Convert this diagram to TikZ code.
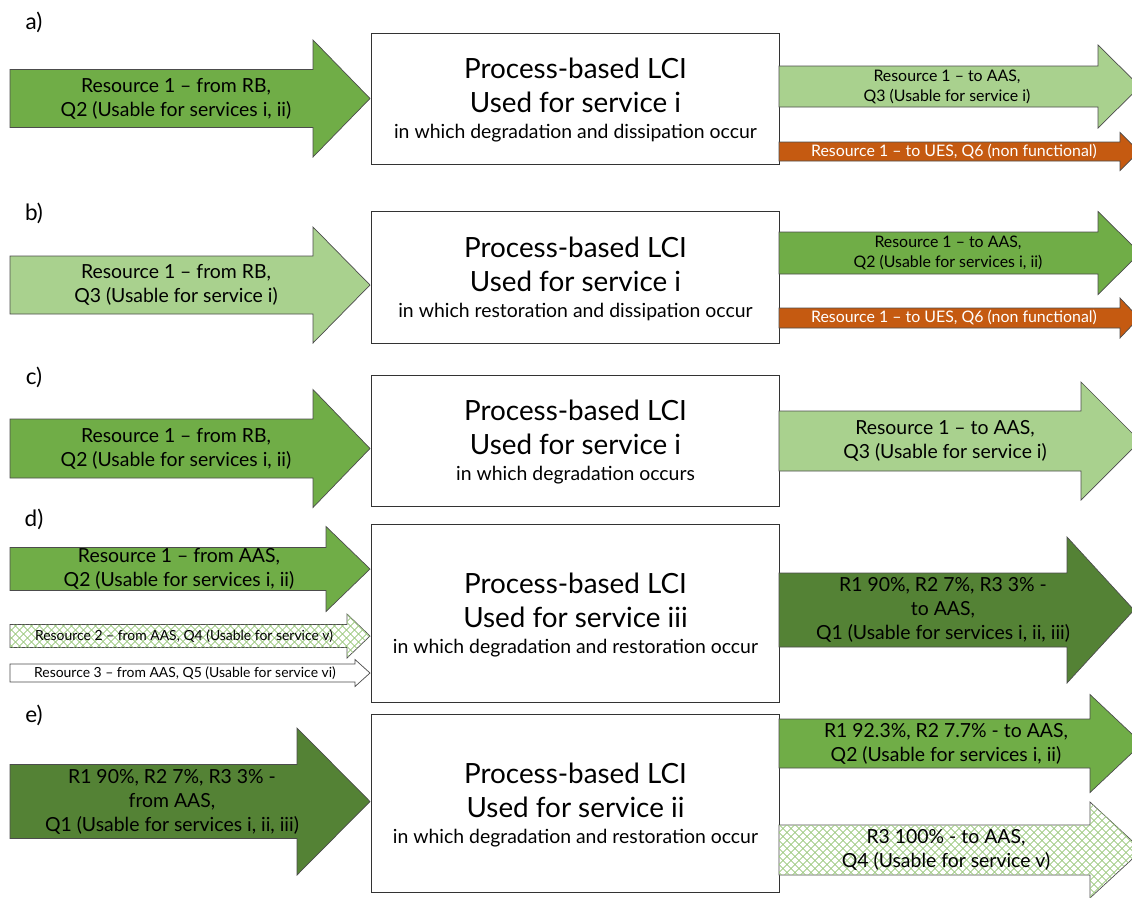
\documentclass[tikz,border=0pt]{standalone}
\usepackage{fontspec}
\setmainfont{Lato}
\usetikzlibrary{patterns.meta}
\definecolor{midgreen}{HTML}{70AD47}
\definecolor{lightgreen}{HTML}{A9D18E}
\definecolor{darkgreen}{HTML}{548235}
\definecolor{rust}{HTML}{C55A11}
\definecolor{hatchgreen}{HTML}{9CC97E}
\newcommand\resarrow[8]{\draw[#1](#3,#6-#7)--(#4,#6-#7)--(#4,#6-#8)--(#5,#6)coordinate(#2)--(#4,#6+#8)--(#4,#6+#7)--(#3,#6+#7)--cycle;}
\begin{document}
\begin{tikzpicture}[x=0.025cm,y=-0.025cm,line join=miter,
arr/.style={draw=black!70,line width=0.5pt},
hatched/.style={fill=white,
 postaction={pattern={Lines[angle=45,distance=4pt,line width=0.6pt]},pattern color=hatchgreen},
 postaction={pattern={Lines[angle=-45,distance=4pt,line width=0.6pt]},pattern color=hatchgreen}},
box/.style={draw=black!80,line width=0.7pt,fill=white,minimum width=10.175cm,inner sep=0pt},
big/.style={font=\fontsize{19.8}{23}\selectfont},
small/.style={font=\fontsize{13.8}{16}\selectfont},
mid/.style={align=center,font=\fontsize{13.8}{17}\selectfont},
sm/.style={align=center,font=\fontsize{11.3}{14.2}\selectfont},
tiny/.style={align=center,font=\fontsize{9.9}{11}\selectfont},
tag/.style={font=\fontsize{16}{18}\selectfont}]
\useasboundingbox(0,0)rectangle(1132,897);
\clip(0,0)rectangle(1132,897);
\foreach \l/\y in{a/22,b/213,c/377,d/519,e/715}
\node[tag](L\l)at(34,\y){\l)};
\foreach \n/\yc/\hh/\srv/\occ in{a/99/3.275/i/degradation and dissipation occur,
b/277.5/3.275/i/restoration and dissipation occur,c/440.5/3.275/i/degradation occurs,
d/613.5/4.425/iii/degradation and restoration occur,e/803.5/4.425/ii/degradation and restoration occur}{
\node[box,minimum height=\hh cm](P\n)at(575.5,\yc){};
\node[big,yshift=0.7625cm](T\n)at(P\n){Process-based LCI};
\node[big,yshift=-0.0875cm](S\n)at(P\n){Used for service \srv};
\node[small,yshift=-0.8625cm](O\n)at(P\n){in which \occ};
}
\resarrow{arr,fill=midgreen}{inA}{10}{313}{370}{98.5}{29}{58.5}
\node[mid](tinA)at(176,98.5){Resource 1 – from RB,\\Q2 (Usable for services i, ii)};
\resarrow{arr,fill=lightgreen}{outA1}{779}{1098}{1140}{86.5}{20.5}{41.5}
\node[sm](toutA1)at(947,86.5){Resource 1 – to AAS,\\Q3 (Usable for service i)};
\resarrow{arr,fill=rust}{outA2}{779}{1120}{1139}{151.5}{9.5}{19}
\node[sm,text=white](toutA2)at(954,151.5){Resource 1 – to UES, Q6 (non functional)};
\resarrow{arr,fill=lightgreen}{inB}{10}{313}{370}{285}{29}{58}
\node[mid](tinB)at(176,285){Resource 1 – from RB,\\Q3 (Usable for service i)};
\resarrow{arr,fill=midgreen}{outB1}{779}{1098}{1140}{253}{21}{41.5}
\node[sm](toutB1)at(948,253){Resource 1 – to AAS,\\Q2 (Usable for services i, ii)};
\resarrow{arr,fill=rust}{outB2}{779}{1120}{1139}{318}{10}{20}
\node[sm,text=white](toutB2)at(954,318){Resource 1 – to UES, Q6 (non functional)};
\resarrow{arr,fill=midgreen}{inC}{10}{313}{370}{448.5}{29.5}{59}
\node[mid](tinC)at(176,448.5){Resource 1 – from RB,\\Q2 (Usable for services i, ii)};
\resarrow{arr,fill=lightgreen}{outC}{779}{1081}{1140}{441}{30}{59}
\node[mid](toutC)at(945,441){Resource 1 – to AAS,\\Q3 (Usable for service i)};
\resarrow{arr,fill=midgreen}{inD1}{10}{326}{370}{569}{21.5}{42.5}
\node[mid](tinD1)at(179,569){Resource 1 – from AAS,\\Q2 (Usable for services i, ii)};
\resarrow{arr,hatched}{inD2}{10}{347}{370}{636}{11.5}{22}
\node[tiny](tinD2)at(184,636){Resource 2 – from AAS, Q4 (Usable for service v)};
\resarrow{arr,fill=white}{inD3}{10}{355}{370}{673}{9}{13.5}
\node[tiny](tinD3)at(185,673){Resource 3 – from AAS, Q5 (Usable for service vi)};
\resarrow{arr,fill=darkgreen}{outD}{779}{1067}{1134}{610}{37}{73}
\node[mid](toutD)at(943,610){R1 90\%, R2 7\%, R3 3\% -\\to AAS,\\Q1 (Usable for services i, ii, iii)};
\resarrow{arr,fill=darkgreen}{inE}{10}{297}{370}{801.5}{37}{73.5}
\node[mid](tinE)at(172,801.5){R1 90\%, R2 7\%, R3 3\% -\\from AAS,\\Q1 (Usable for services i, ii, iii)};
\resarrow{arr,fill=midgreen}{outE1}{779}{1090}{1142}{743.5}{24.5}{49}
\node[mid](toutE1)at(946,743.5){R1 92.3\%, R2 7.7\% - to AAS,\\Q2 (Usable for services i, ii)};
\resarrow{arr,hatched}{outE2}{779}{1090}{1142}{850}{25}{48}
\node[mid](toutE2)at(946,850){R3 100\% - to AAS,\\Q4 (Usable for service v)};
\end{tikzpicture}
\end{document}
